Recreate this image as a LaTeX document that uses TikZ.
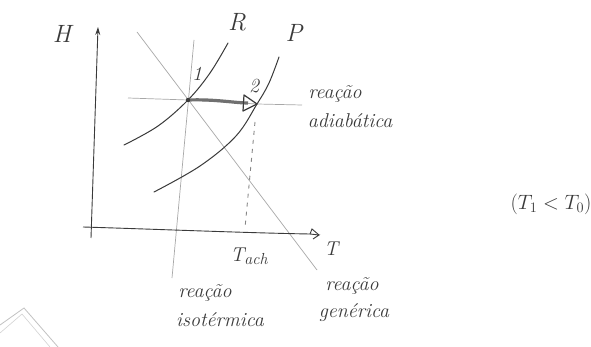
\documentclass[tikz,border=0pt]{standalone}
\usetikzlibrary{arrows.meta}
\definecolor{pen}{HTML}{3A3A3A}
\definecolor{faint}{HTML}{A8A8A8}
\definecolor{shaft}{HTML}{707070}
\begin{document}
\begin{tikzpicture}[x=1pt,y=-1pt,
  hand/.style={text=pen,font=\fontsize{20}{20}\selectfont\itshape,inner sep=0pt},
  big/.style={text=pen,font=\fontsize{25}{25}\selectfont\itshape,inner sep=0pt},
  axisline/.style={draw=pen,line width=0.9pt},
  guide/.style={draw=faint,line width=0.7pt},
  curve/.style={draw=pen,line width=1pt,line cap=round},
  dashline/.style={draw=faint!80!black,line width=0.9pt,dash pattern=on 4pt off 5pt}]
\useasboundingbox (0,0) rectangle (591,347);
\fill[white] (0,0) rectangle (591,347);

% faint corner sketch bottom-left
\draw[faint!70,line width=0.8pt] (0,325) -- (24,308) -- (58,347);
\draw[faint!50,line width=0.6pt] (0,333) -- (22,314) -- (50,347);

% coordinates
\coordinate (yb) at (91,238);
\coordinate (yt) at (98,27);
\coordinate (xl) at (83,227);
\coordinate (xr) at (319,235);
\coordinate (isoT) at (194,40);
\coordinate (isoB) at (172,278);
\coordinate (genT) at (137,32);
\coordinate (genB) at (317,270);
\coordinate (adL) at (128,98);
\coordinate (adR) at (302,105);
\coordinate (p1) at (188,100);
\coordinate (p2) at (257,104);
\coordinate (dT) at (255,122);
\coordinate (dB) at (245,228);

% guide lines
\draw[guide] (isoT) -- (isoB);
\draw[guide] (genT) -- (genB);
\draw[guide] (adL) -- (p1) -- (p2) -- (adR);

% axes
\draw[axisline,-{Stealth[length=8pt,width=5pt]}] (yb) -- (yt);
\draw[axisline] (xl) .. controls (150,229) and (250,233) .. (310,234);
\draw[pen,line width=0.9pt] (310,234) -- (xr) -- (313,239);
\draw[pen,line width=0.9pt] (310,234) -- (312,229) -- (xr);

% curves R and P
\draw[curve] plot[smooth,tension=0.6] coordinates {(124,145) (158,126) (p1) (210,73) (228,43)};
\draw[curve] plot[smooth,tension=0.6] coordinates {(154,192) (200,166) (236,136) (p2) (269,83) (279,57)};

% dashed line
\draw[dashline] (dT) -- (dB);

% adiabatic arrow
\draw[shaft,line width=3.2pt] (p1) .. controls (215,99) and (235,103) .. (248,103);
\draw[pen,line width=1.2pt,line join=round] (244,95) -- (p2) -- (243,111) -- cycle;
\fill[pen] (p1) circle (2.2pt);

% labels
\node[big] (H) at (62,34) {H};
\node[big] (R) at (237,22) {R};
\node[big] (P) at (294,33) {P};
\node[hand] (n1) at (197,74) {1};
\node[hand] (n2) at (254,86) {2};
\node[hand] (T) at (331,249) {T};
\node[hand] (Tach) at (249,256) {T\raisebox{-3pt}{\fontsize{16}{16}\selectfont ach}};
\node[hand] (ad1) at (335,94) {reação};
\node[hand] (ad2) at (350,121) {adiabática};
\node[hand] (is1) at (205,293) {reação};
\node[hand] (is2) at (220,320) {isotérmica};
\node[hand] (ge1) at (352,286) {reação};
\node[hand] (ge2) at (354,313) {genérica};
\node[hand] (cond) at (551,204) {$(T_1<T_0)$};
\end{tikzpicture}
\end{document}
